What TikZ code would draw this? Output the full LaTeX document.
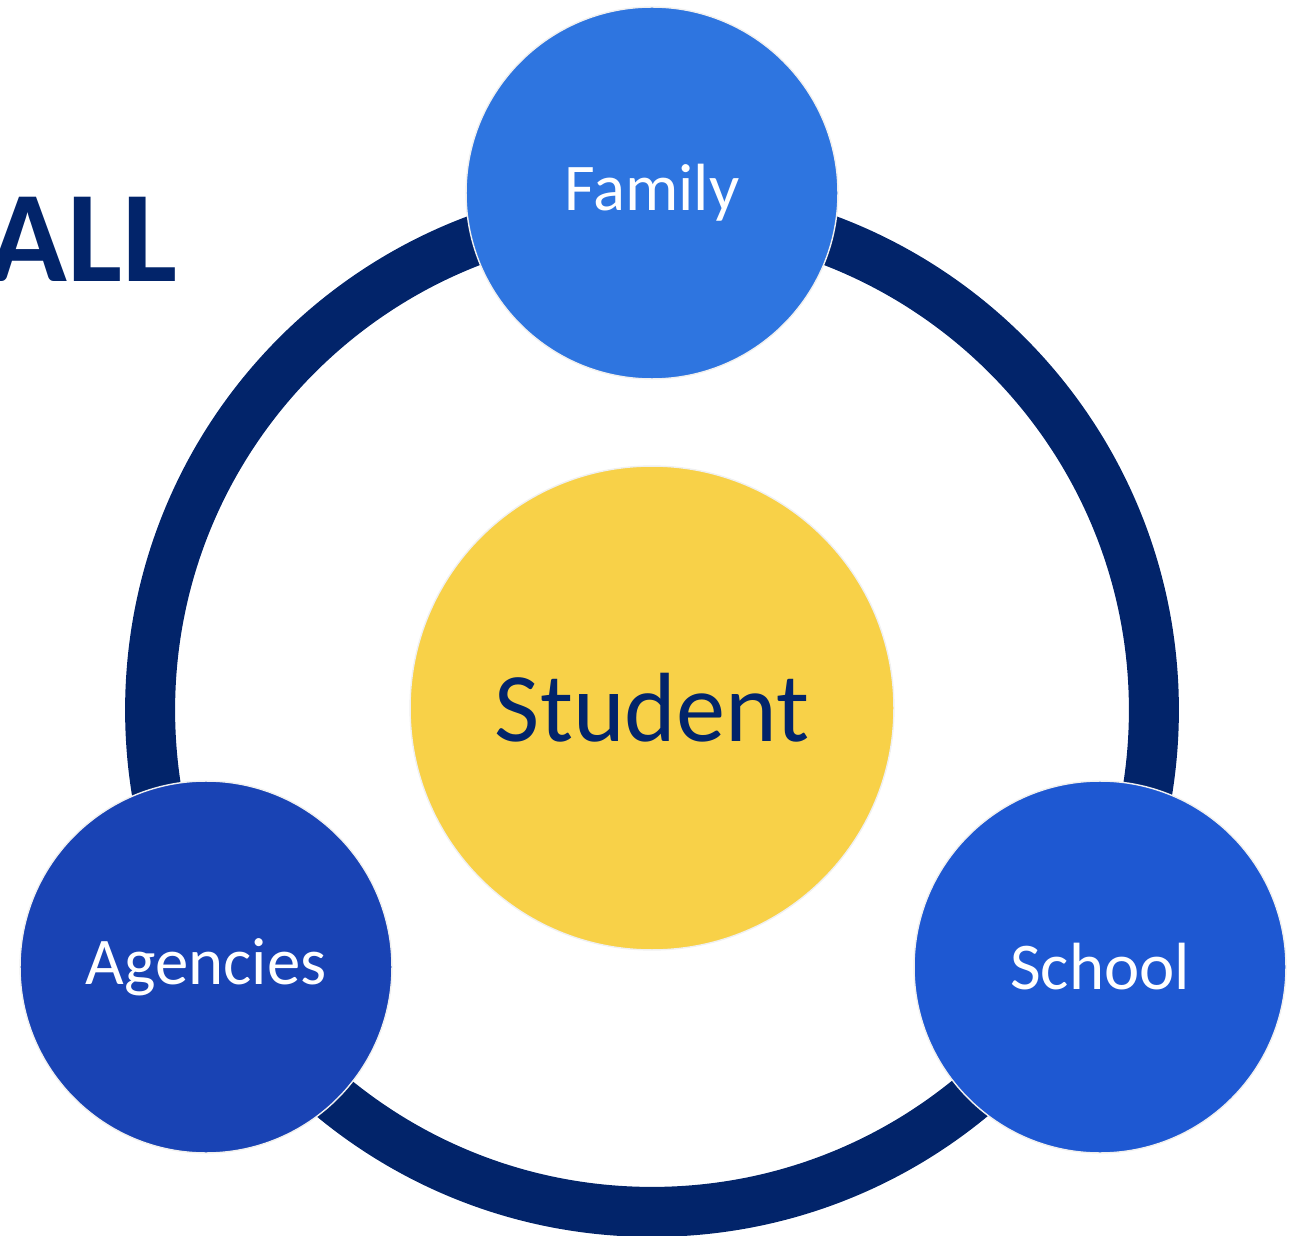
\documentclass[tikz,border=0pt]{standalone}
\usepackage{xcolor}
\usepackage{fontspec}
\setmainfont{Carlito}
\usepackage{tikz}
\usetikzlibrary{calc}
\definecolor{rnavy}{RGB}{2, 36, 106}
\definecolor{rfamily}{RGB}{46, 117, 224}
\definecolor{ragency}{RGB}{25, 67, 180}
\definecolor{rschool}{RGB}{30, 88, 210}
\definecolor{ryellow}{RGB}{248, 209, 72}

\begin{document}
\begin{tikzpicture}[x=0.02cm,y=-0.02cm,
    member/.style={circle, draw=white!88!gray, line width=0.8pt, text=white,
        minimum size=7.44cm, inner sep=0pt, font=\fontsize{38}{38}\selectfont},
    core/.style={circle, draw=white!88!gray, line width=0.8pt, fill=ryellow, text=rnavy,
        minimum size=9.68cm, inner sep=0pt, font=\fontsize{56}{56}\selectfont}]
\useasboundingbox (0,0) rectangle (1295,1236);
\clip (0,0) rectangle (1295,1236);

% Outer ring
\coordinate (hub) at (652,710);
\draw[rnavy, line width=1cm] (hub) circle (10.04cm);

% Title word at the left edge
\node[anchor=base east, inner sep=0pt, text=rnavy, font=\fontsize{74}{74}\selectfont\bfseries] (all) at (178,282) {ALL};

% Centre
\node[core] (student) at (652,708) {Student};

% Circles on the ring
\node[member, fill=rfamily] (family) at (652,193) {Family};
\node[member, fill=ragency] (agencies) at (206,967) {Agencies};
\node[member, fill=rschool] (school) at (1100,967) {School};
\end{tikzpicture}
\end{document}
